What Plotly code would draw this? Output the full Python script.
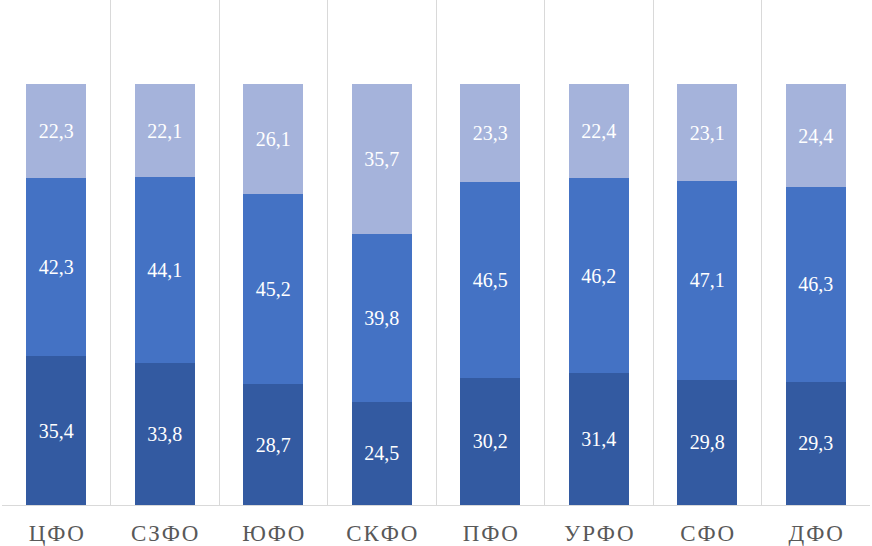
import plotly.graph_objects as go

regions = ['ЦФО', 'СЗФО', 'ЮФО', 'СКФО', 'ПФО', 'УРФО', 'СФО', 'ДФО']
bottom = [35.4, 33.8, 28.7, 24.5, 30.2, 31.4, 29.8, 29.3]
middle = [42.3, 44.1, 45.2, 39.8, 46.5, 46.2, 47.1, 46.3]
top = [22.3, 22.1, 26.1, 35.7, 23.3, 22.4, 23.1, 24.4]

colors = ['#335AA1', '#4472C4', '#A5B3DB']
serif = 'Liberation Serif, Times New Roman, serif'

# spaced out letters like the original axis labels
tick_labels = ['\u200a'.join(r) for r in regions]

fig = go.Figure()
for vals, col in zip([bottom, middle, top], colors):
    lbl_font = dict(family=serif, size=20, color='white')
    fig.add_trace(go.Bar(
        x=regions, y=vals,
        marker=dict(color=col, line=dict(width=0)),
        text=[('%.1f' % v).replace('.', ',') for v in vals],
        textposition='inside',
        insidetextanchor='middle',
        textangle=0,
        constraintext='none',
        textfont=lbl_font,
        insidetextfont=lbl_font,
        hoverinfo='skip',
    ))

fig.update_layout(
    barmode='stack',
    bargap=0.45,
    width=872, height=546,
    margin=dict(l=2, r=2, t=0, b=41),
    paper_bgcolor='white',
    plot_bgcolor='white',
    showlegend=False,
    font=dict(family=serif, color='#595959'),
)
fig.update_xaxes(
    type='category',
    tickvals=regions,
    ticktext=tick_labels,
    tickson='boundaries',
    showgrid=True, gridcolor='#D9D9D9', gridwidth=1,
    showline=True, linecolor='#D9D9D9', linewidth=1,
    ticks='', ticklabelstandoff=7,
    tickfont=dict(family=serif, size=23, color='#595959'),
)
fig.update_yaxes(range=[0, 120], showgrid=False, showticklabels=False,
                 zeroline=False, showline=False)

fig.write_html("out.html", config={'displayModeBar': False},
               post_script="document.body.style.margin='0';")
